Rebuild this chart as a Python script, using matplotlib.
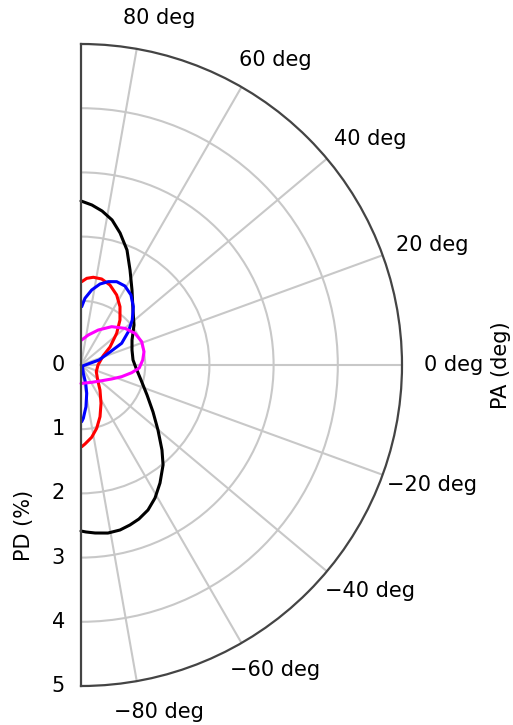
import numpy as np
import matplotlib
matplotlib.use("Agg")
import matplotlib.pyplot as plt
from matplotlib.transforms import ScaledTranslation

# ---- data: polarization angle (deg) and polarization degree (%) ----
black_pa = [90, 86.1, 82.2, 77.9, 73.5, 68.2, 62.7, 55.8, 46.6, 37.0, 26.1, 16.4, 5.5, -3.1,
            -14.0, -24.4, -33.1, -40.2, -46.4, -50.6, -56.2, -60.9, -65.2, -69.4, -73.0,
            -76.7, -80.9, -85.2, -88.3, -90]
black_pd = [2.555, 2.498, 2.421, 2.310, 2.144, 1.929, 1.665, 1.413, 1.179, 1.034, 0.885, 0.828,
            0.814, 0.858, 0.963, 1.129, 1.339, 1.570, 1.829, 2.014, 2.212, 2.371, 2.488, 2.563,
            2.606, 2.641, 2.651, 2.626, 2.602, 2.586]

red_pa = [89.5, 86.2, 82.0, 76.5, 70.1, 63.0, 56.2, 49.1, 41.6, 31.8, 22.2, 0.0, -23.6, -41.9,
          -52.8, -62.4, -69.8, -76.1, -81.6, -87.1, -89.5]
red_pd = [1.298, 1.353, 1.380, 1.378, 1.325, 1.224, 1.092, 0.927, 0.743, 0.532, 0.370, 0.265,
          0.260, 0.349, 0.489, 0.673, 0.858, 1.016, 1.138, 1.232, 1.273]

blue_pa = [89.3, 86.6, 81.9, 76.8, 71.9, 66.8, 60.9, 54.5, 48.1, 41.3, 35.1, 28.1, 24.1, 15.5,
           8.1, -33.7, -74.5, -75.6, -78.6, -83.2, -87.5, -89.3]
blue_pd = [0.908, 1.041, 1.180, 1.296, 1.366, 1.412, 1.408, 1.340, 1.220, 1.063, 0.901, 0.718,
           0.495, 0.291, 0.110, 0.028, 0.134, 0.294, 0.450, 0.654, 0.831, 0.883]

magenta_pa = [88.4, 76.3, 63.7, 51.3, 39.8, 30.4, 21.0, 11.9, 4.6, -2.9, -8.6, -16.0, -24.5,
              -37.2, -58.3, -85.9, -90]
magenta_pd = [0.390, 0.481, 0.608, 0.765, 0.892, 0.975, 1.013, 1.003, 0.964, 0.909, 0.799,
              0.659, 0.525, 0.405, 0.317, 0.286, 0.288]

angle_ticks = [80, 60, 40, 20, 0, -20, -40, -60, -80]
angle_labels = ["80 deg", "60 deg", "40 deg", "20 deg", "0 deg",
                "\u221220 deg", "\u221240 deg", "\u221260 deg", "\u221280 deg"]
radial_ticks = [0, 1, 2, 3, 4, 5]

series = [(black_pa, black_pd, "black"), (red_pa, red_pd, "red"),
          (blue_pa, blue_pd, "blue"), (magenta_pa, magenta_pd, "magenta")]

# ---- figure ----
plt.rcParams["font.family"] = ["DejaVu Sans"]
FS = 15
fig = plt.figure(figsize=(5.13, 7.25), dpi=100)
# square box; the half-disc (321 px wide, 642 px tall) is centred in it
ax = fig.add_axes([(81 - 160.5) / 513, 39 / 725, 642 / 513, 642 / 725], projection="polar")
ax.set_thetamin(-90)
ax.set_thetamax(90)
ax.set_rlim(0, 5)
ax.patch.set_alpha(0)

grid_c = "#c8c8c8"
ax.set_thetagrids(angle_ticks, labels=[""] * len(angle_ticks))
ax.set_rgrids([1, 2, 3, 4], labels=[""] * 4)
ax.grid(True, color=grid_c, lw=1.5)
ax.tick_params(axis="both", length=0)

for s in ("polar", "start", "end"):
    ax.spines[s].set_color("#444444")
    ax.spines[s].set_linewidth(1.6)
ax.spines["inner"].set_visible(False)

for pa, pd, c in series:
    ax.plot(np.deg2rad(pa), pd, color=c, lw=2.2, solid_joinstyle="round",
            solid_capstyle="round", clip_on=False)

# angular tick labels
for a, lab in zip(angle_ticks, angle_labels):
    rad = np.deg2rad(a)
    dx = (36 * np.cos(rad) + 16) / 100
    dy = (31 * np.sin(rad)) / 100
    tr = ax.transData + ScaledTranslation(dx, dy, fig.dpi_scale_trans)
    ax.text(rad, 5, lab, transform=tr, ha="center", va="center", fontsize=FS,
            clip_on=False)

# radial tick labels along the lower edge
tr_r = ax.transData + ScaledTranslation(-16 / 100, 0, fig.dpi_scale_trans)
for r in radial_ticks:
    ax.text(np.deg2rad(-90), r, str(r), transform=tr_r, ha="right", va="center",
            fontsize=FS, clip_on=False)

fig.text(24 / 513, 1 - 525 / 725, "PD (%)", rotation=90, ha="center", va="center",
         fontsize=FS)
fig.text(501 / 513, 1 - 365 / 725, "PA (deg)", rotation=90, ha="center", va="center",
         fontsize=FS)

fig.savefig("out.png", dpi=100)
